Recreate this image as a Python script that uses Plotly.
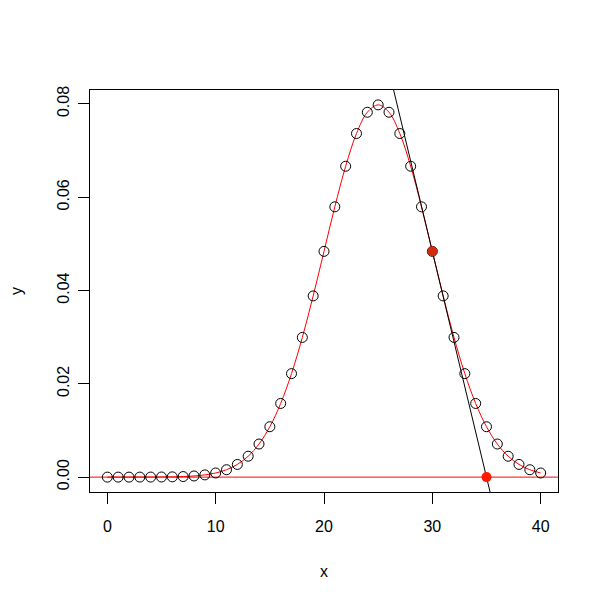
import plotly.graph_objects as go

# Data
x_vals = list(range(0, 41))
y_vals = [3e-7, 8e-7, 2.0e-6, 5.0e-6, 1.18e-5, 2.68e-5, 5.84e-5, 1.224e-4, 2.465e-4, 4.768e-4,
          8.864e-4, 1.583e-3, 2.717e-3, 4.479e-3, 7.095e-3, 0.01080, 0.01579, 0.02218, 0.02995, 0.03884,
          0.04839, 0.05794, 0.06664, 0.07365, 0.07821, 0.07979, 0.07821, 0.07365, 0.06664, 0.05794,
          0.04839, 0.03884, 0.02995, 0.02218, 0.01579, 0.01080, 7.095e-3, 4.479e-3, 2.717e-3, 1.583e-3,
          8.864e-4]
tangent_x = [30, 35]          # tangent point and its root
tangent_y = [0.04839, 0.0]
x_ticks = [0, 10, 20, 30, 40]
y_ticks = [0.00, 0.02, 0.04, 0.06, 0.08]

x_range = [-1.6, 41.6]
y_range = [-0.00319, 0.08298]

slope = (tangent_y[1] - tangent_y[0]) / (tangent_x[1] - tangent_x[0])
tx_ext = [24, 37]
ty_ext = [tangent_y[0] + slope * (t - tangent_x[0]) for t in tx_ext]

fig = go.Figure()
# horizontal zero line
fig.add_trace(go.Scatter(x=x_range, y=[0, 0], mode="lines",
                         line=dict(color="#FF0000", width=1), hoverinfo="skip"))
# smooth curve
fig.add_trace(go.Scatter(x=x_vals, y=y_vals, mode="lines", line_shape="spline",
                         line=dict(color="#FF0000", width=1)))
# tangent line
fig.add_trace(go.Scatter(x=tx_ext, y=ty_ext, mode="lines",
                         line=dict(color="black", width=1)))
# open circles
fig.add_trace(go.Scatter(x=x_vals, y=y_vals, mode="markers",
                         marker=dict(symbol="circle-open", size=10, color="black",
                                     line=dict(width=1, color="black"))))
# red filled points
fig.add_trace(go.Scatter(x=tangent_x, y=tangent_y, mode="markers",
                         marker=dict(symbol="circle", size=10, color=["#D42A10", "#FF1A00"],
                                     line=dict(width=0))))

font = dict(family="Liberation Sans, Arial, sans-serif", size=16, color="black")
axis_common = dict(showline=True, mirror=True, linecolor="black", linewidth=1,
                   ticks="outside", ticklen=11, tickwidth=1, tickcolor="black",
                   showgrid=False, zeroline=False, automargin=False,
                   tickfont=font, title_font=font)

fig.update_layout(
    width=596, height=597,
    margin=dict(l=82, r=46, t=82, b=113),
    paper_bgcolor="white", plot_bgcolor="white",
    showlegend=False,
    xaxis=dict(range=x_range, tickvals=x_ticks, ticktext=[str(v) for v in x_ticks],
               ticklabelstandoff=9,
               title=dict(text="x", standoff=31), **axis_common),
    yaxis=dict(range=y_range, tickvals=y_ticks, ticktext=["%.2f" % v for v in y_ticks],
               tickangle=-90, ticklabelstandoff=3,
               title=dict(text="y", standoff=30), **axis_common),
)

fig.write_html("out.html")
